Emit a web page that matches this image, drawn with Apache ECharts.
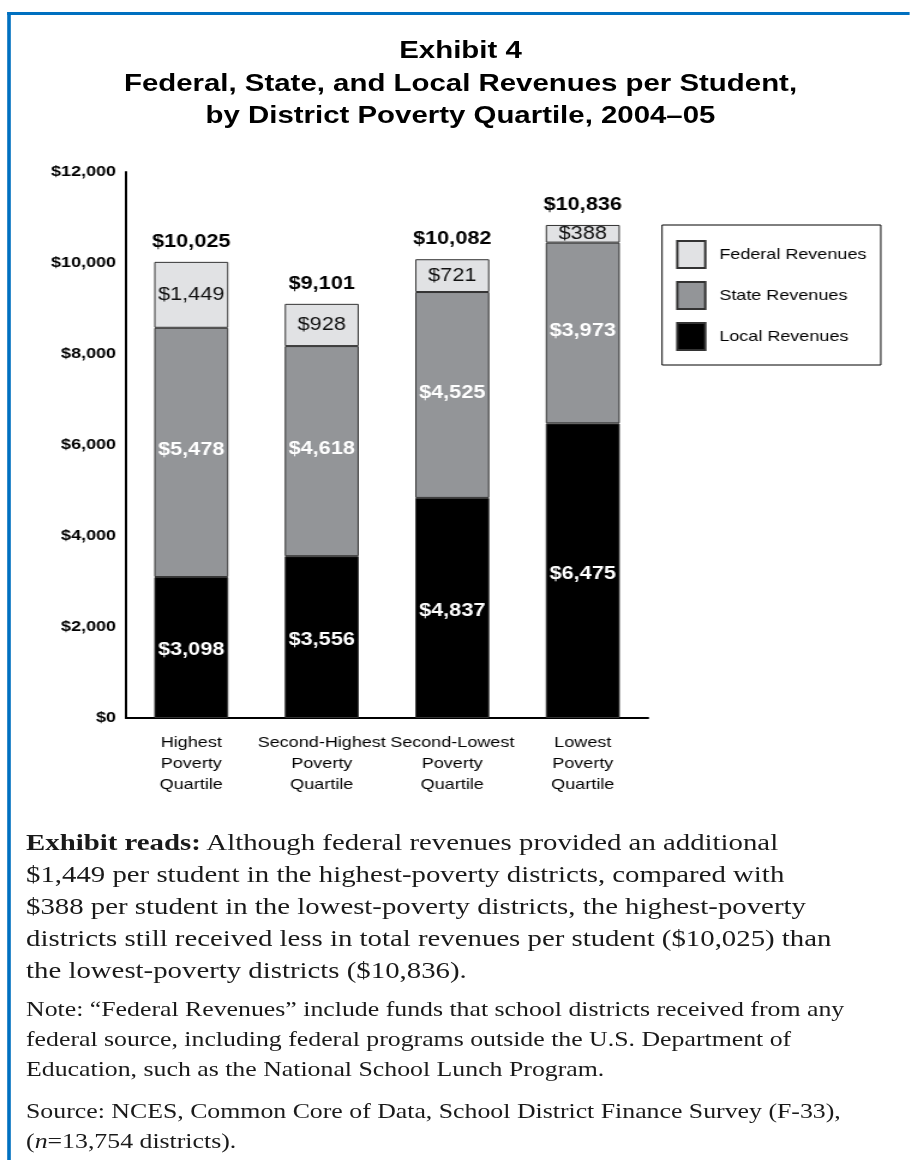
<!DOCTYPE html>
<html>
<head>
<meta charset="utf-8">
<script src="https://cdn.jsdelivr.net/npm/echarts@6/dist/echarts.min.js"></script>
<style>
  html, body { margin: 0; padding: 0; background: #fff; overflow: hidden; }
  /* the reference is stretched sideways, so the whole sheet is drawn narrow and widened */
  .page {
    position: relative; width: 758.33px; height: 1160px; overflow: hidden;
    transform: scaleX(1.2); transform-origin: 0 0;
  }
  .frame {
    position: absolute; left: 5.8px; top: 12px; right: -10px; bottom: -10px;
    border-left: 3.4px solid #0070c0; border-top: 3px solid #0070c0;
  }
  .title {
    position: absolute; left: 9.2px; right: 0; top: 34px;
    text-align: center; font-family: "Liberation Sans", Arial, sans-serif;
    font-weight: bold; font-size: 24.5px; line-height: 32.5px; color: #000;
  }
  #my-charts { position: absolute; left: 0; top: 0; width: 758px; height: 820px; }
  .notes {
    position: absolute; left: 21.7px; font-family: "Liberation Serif", "Times New Roman", serif;
    color: #1a1a1a; white-space: nowrap;
  }
  .reads { top: 826px; font-size: 24px; line-height: 32px; }
  .note { top: 994px; font-size: 21.5px; line-height: 30px; }
  .source { top: 1096px; font-size: 21.5px; line-height: 30px; }
</style>
</head>
<body>
<div class="page">
  <div class="frame"></div>
  <div id="my-charts"></div>
  <div class="title">Exhibit 4<br>Federal, State, and Local Revenues per Student,<br>by District Poverty Quartile, 2004–05</div>
  <div class="notes reads"><b>Exhibit reads:</b> Although federal revenues provided an additional<br>$1,449 per student in the highest-poverty districts, compared with<br>$388 per student in the lowest-poverty districts, the highest-poverty<br>districts still received less in total revenues per student ($10,025) than<br>the lowest-poverty districts ($10,836).</div>
  <div class="notes note">Note: “Federal Revenues” include funds that school districts received from any<br>federal source, including federal programs outside the U.S. Department of<br>Education, such as the National School Lunch Program.</div>
  <div class="notes source">Source: NCES, Common Core of Data, School District Finance Survey (F-33),<br>(<i>n</i>=13,754 districts).</div>
</div>
<script>
// quartile categories
var categories = ['Highest\nPoverty\nQuartile', 'Second-Highest\nPoverty\nQuartile', 'Second-Lowest\nPoverty\nQuartile', 'Lowest\nPoverty\nQuartile']
// revenues per student
var localRevenues = [3098, 3556, 4837, 6475]
var stateRevenues = [5478, 4618, 4525, 3973]
var federalRevenues = [1449, 928, 721, 388]
var totalRevenues = [10025, 9101, 10082, 10836]
var yTicks = [0, 2000, 4000, 6000, 8000, 10000, 12000]

var font = '"Liberation Sans", Arial, sans-serif'
var money = function(v) {
	return '$' + Number(v).toLocaleString('en-US')
}

var myChart = echarts.init(document.getElementById('my-charts'))
var option = {
	animation: false,
	textStyle: { fontFamily: font },
	grid: { left: 105, top: 172, width: 435, height: 546 },
	legend: {
		orient: 'vertical',
		left: 551.7,
		top: 225,
		data: ['Federal Revenues', 'State Revenues', 'Local Revenues'],
		icon: 'rect',
		itemWidth: 23.3,
		itemHeight: 27,
		itemGap: 12,
		padding: [15, 12, 14, 11.7],
		borderColor: '#000',
		borderWidth: 1,
		backgroundColor: '#fff',
		textStyle: { fontFamily: font, fontSize: 15, color: '#000', padding: [0, 0, 0, 6.7] }
	},
	xAxis: {
		type: 'category',
		data: categories,
		axisLine: { lineStyle: { color: '#000', width: 2 } },
		axisTick: { show: false },
		axisLabel: {
			interval: 0,
			margin: 14,
			fontSize: 15,
			lineHeight: 21,
			color: '#000',
			fontFamily: font
		}
	},
	yAxis: {
		type: 'value',
		min: yTicks[0],
		max: yTicks[yTicks.length - 1],
		interval: 2000,
		axisLine: { show: true, lineStyle: { color: '#000', width: 2 } },
		axisTick: { show: false },
		splitLine: { show: false },
		axisLabel: {
			margin: 8.3,
			fontSize: 15,
			fontWeight: 'bold',
			color: '#000',
			fontFamily: font,
			formatter: money
		}
	},
	series: [
		{
			name: 'Local Revenues',
			type: 'bar',
			stack: 'rev',
			barWidth: 61.7,
			data: localRevenues,
			itemStyle: { color: '#000', borderColor: '#333', borderWidth: 1 },
			label: { show: true, position: 'inside', offset: [0, 3], color: '#fff', fontWeight: 'bold', fontSize: 18, fontFamily: font, formatter: function(p) { return money(p.value) } }
		},
		{
			name: 'State Revenues',
			type: 'bar',
			stack: 'rev',
			data: stateRevenues,
			itemStyle: { color: '#939598', borderColor: '#333', borderWidth: 1 },
			label: { show: true, position: 'inside', offset: [0, -2], color: '#fff', fontWeight: 'bold', fontSize: 18, fontFamily: font, formatter: function(p) { return money(p.value) } }
		},
		{
			name: 'Federal Revenues',
			type: 'bar',
			stack: 'rev',
			data: federalRevenues,
			itemStyle: { color: '#e1e2e4', borderColor: '#333', borderWidth: 1 },
			label: { show: true, position: 'inside', color: '#111', fontSize: 18, fontFamily: font, formatter: function(p) { return money(p.value) } }
		},
		{
			// zero-height cap carrying the total label
			name: 'Total',
			type: 'bar',
			stack: 'rev',
			data: totalRevenues.map(function() { return 0 }),
			itemStyle: { color: 'transparent' },
			label: {
				show: true,
				position: 'top',
				distance: 11,
				color: '#000',
				fontWeight: 'bold',
				fontSize: 18,
				fontFamily: font,
				formatter: function(p) { return money(totalRevenues[p.dataIndex]) }
			}
		}
	]
}
myChart.setOption(option)
</script>
</body>
</html>
